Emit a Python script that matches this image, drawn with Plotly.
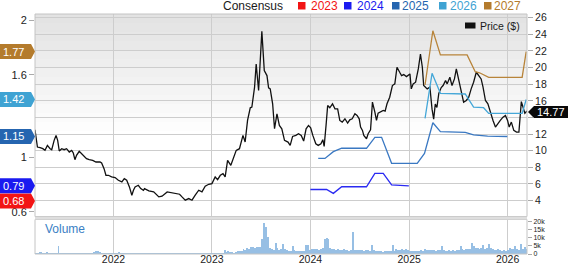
import plotly.graph_objects as go
import pandas as pd

# ---------------- data ----------------
price_points = [
    ("2021-03-16", 12.52), ("2021-03-25", 10.44), ("2021-04-04", 10.36), ("2021-04-14", 10.24),
    ("2021-04-22", 10.04), ("2021-05-01", 10.64), ("2021-05-11", 10.24), ("2021-05-17", 10.12),
    ("2021-05-26", 11.24), ("2021-06-02", 11.84), ("2021-06-08", 11.24), ("2021-06-14", 9.96),
    ("2021-06-23", 10.24), ("2021-07-02", 10.12), ("2021-07-11", 10.24), ("2021-07-21", 9.84),
    ("2021-07-30", 10.04), ("2021-08-05", 9.72), ("2021-08-11", 8.92), ("2021-08-17", 9.44),
    ("2021-08-27", 9.92), ("2021-09-05", 9.64), ("2021-09-14", 9.24), ("2021-09-23", 9.04),
    ("2021-10-03", 8.92), ("2021-10-16", 8.84), ("2021-10-28", 8.64), ("2021-11-12", 8.64),
    ("2021-11-18", 8.52), ("2021-11-27", 7.84), ("2021-12-04", 7.04), ("2021-12-13", 7.04),
    ("2021-12-25", 6.84),
    ("2022-01-07", 6.76), ("2022-01-19", 6.44), ("2022-02-01", 6.24), ("2022-02-10", 6.64),
    ("2022-02-19", 6.44), ("2022-03-01", 5.64), ("2022-03-10", 4.64), ("2022-03-16", 5.24),
    ("2022-03-22", 5.64), ("2022-04-03", 5.84), ("2022-04-12", 5.44), ("2022-04-22", 5.24),
    ("2022-04-26", 5.44), ("2022-05-12", 5.16), ("2022-05-30", 5.04), ("2022-06-18", 4.44),
    ("2022-06-30", 4.52), ("2022-07-19", 5.04), ("2022-08-06", 4.92), ("2022-08-22", 4.84),
    ("2022-09-03", 4.76), ("2022-09-12", 4.44), ("2022-09-24", 4.04), ("2022-10-07", 4.24),
    ("2022-10-19", 4.04), ("2022-10-31", 4.64), ("2022-11-13", 5.24), ("2022-11-25", 5.04),
    ("2022-12-07", 5.72), ("2022-12-20", 5.96),
    ("2023-01-01", 6.04), ("2023-01-13", 6.84), ("2023-01-22", 6.52), ("2023-02-01", 7.04),
    ("2023-02-11", 7.24), ("2023-02-19", 6.84), ("2023-02-28", 8.84), ("2023-03-12", 8.24),
    ("2023-03-22", 9.24), ("2023-04-01", 10.04), ("2023-04-13", 10.24), ("2023-04-26", 11.84),
    ("2023-05-04", 11.04), ("2023-05-13", 13.64), ("2023-05-23", 15.16), ("2023-05-29", 15.24),
    ("2023-06-08", 17.64), ("2023-06-14", 20.44), ("2023-06-23", 17.24), ("2023-07-05", 24.36),
    ("2023-07-14", 19.64), ("2023-07-24", 19.04), ("2023-07-30", 17.56), ("2023-08-05", 17.44),
    ("2023-08-14", 15.64), ("2023-08-21", 12.64), ("2023-08-30", 14.44), ("2023-09-08", 13.04),
    ("2023-09-17", 12.64), ("2023-09-27", 11.24), ("2023-10-10", 11.04), ("2023-10-18", 10.64),
    ("2023-10-27", 11.72), ("2023-11-08", 11.84), ("2023-11-18", 12.04), ("2023-11-28", 11.84),
    ("2023-12-07", 11.16), ("2023-12-16", 12.64), ("2023-12-25", 13.04),
    ("2024-01-02", 12.76), ("2024-01-10", 11.84), ("2024-01-21", 10.84), ("2024-01-30", 10.64),
    ("2024-02-09", 10.84), ("2024-02-16", 11.32), ("2024-02-21", 10.52), ("2024-02-28", 13.04),
    ("2024-03-05", 15.44), ("2024-03-13", 15.16), ("2024-03-23", 15.64), ("2024-04-01", 15.04),
    ("2024-04-11", 15.04), ("2024-04-19", 13.64), ("2024-04-28", 13.44), ("2024-05-08", 13.84),
    ("2024-05-18", 13.32), ("2024-05-26", 13.72), ("2024-06-04", 13.84), ("2024-06-14", 14.44),
    ("2024-06-22", 14.24), ("2024-06-30", 13.84), ("2024-07-05", 12.84), ("2024-07-12", 12.44),
    ("2024-07-17", 11.84), ("2024-07-27", 11.44), ("2024-08-02", 12.04), ("2024-08-11", 12.52),
    ("2024-08-18", 15.84), ("2024-08-27", 14.64), ("2024-09-02", 13.64), ("2024-09-08", 14.52),
    ("2024-09-17", 14.64), ("2024-09-27", 14.84), ("2024-10-04", 14.76), ("2024-10-11", 15.64),
    ("2024-10-21", 16.44), ("2024-10-31", 17.84), ("2024-11-09", 18.04), ("2024-11-17", 20.04),
    ("2024-11-27", 19.44), ("2024-12-04", 19.04), ("2024-12-12", 19.16), ("2024-12-22", 18.92),
    ("2025-01-04", 19.24), ("2025-01-09", 17.44), ("2025-01-16", 18.04), ("2025-01-25", 18.24),
    ("2025-02-04", 19.84), ("2025-02-12", 21.64), ("2025-02-19", 20.04), ("2025-02-24", 17.84),
    ("2025-03-09", 17.44), ("2025-03-19", 17.64), ("2025-03-27", 15.00), ("2025-04-02", 13.80),
    ("2025-04-08", 15.60), ("2025-04-14", 15.20), ("2025-04-21", 16.90), ("2025-04-30", 17.60),
    ("2025-05-07", 17.84), ("2025-05-16", 18.44), ("2025-05-22", 18.04), ("2025-06-01", 18.84),
    ("2025-06-09", 17.84), ("2025-06-18", 18.64), ("2025-06-25", 19.84), ("2025-07-04", 18.44),
    ("2025-07-13", 17.04), ("2025-07-22", 15.84), ("2025-08-01", 16.04), ("2025-08-10", 16.44),
    ("2025-08-19", 17.44), ("2025-08-28", 18.24), ("2025-09-07", 19.44), ("2025-09-16", 19.04),
    ("2025-09-25", 18.64), ("2025-10-02", 17.64), ("2025-10-11", 16.04), ("2025-10-20", 15.64),
    ("2025-10-30", 14.44), ("2025-11-08", 13.64), ("2025-11-17", 12.84), ("2025-11-25", 13.24),
    ("2025-12-05", 13.64), ("2025-12-15", 14.04), ("2025-12-24", 14.24),
    ("2026-01-01", 13.64), ("2026-01-07", 12.84), ("2026-01-15", 13.44), ("2026-01-24", 12.44),
    ("2026-02-03", 12.24), ("2026-02-12", 12.24), ("2026-02-21", 15.90), ("2026-02-27", 15.10),
    ("2026-03-06", 14.50), ("2026-03-14", 14.77),
]
last_price = 14.77

cons_2024_dates = ["2024-01-01", "2024-03-01", "2024-03-26", "2024-04-26", "2024-07-27",
                   "2024-08-27", "2024-09-27", "2024-10-28", "2024-12-31"]
cons_2024_vals = [0.763, 0.763, 0.735, 0.783, 0.783, 0.881, 0.881, 0.796, 0.79]

cons_2025_dates = ["2024-01-30", "2024-02-24", "2024-03-26", "2024-04-26", "2024-07-27",
                   "2024-08-27", "2024-09-21", "2024-10-28", "2025-01-31", "2025-02-27",
                   "2025-03-30", "2025-04-27", "2025-07-28", "2025-08-28", "2025-10-19",
                   "2025-12-31"]
cons_2025_vals = [0.99, 0.99, 1.039, 1.064, 1.064, 1.144, 1.144, 0.954, 0.954, 1.027,
                  1.25, 1.185, 1.18, 1.161, 1.153, 1.15]

cons_2026_dates = ["2025-03-01", "2025-03-27", "2025-04-27", "2025-07-28", "2025-08-28",
                   "2025-10-04", "2025-10-23", "2026-02-24", "2026-03-11"]
cons_2026_vals = [1.282, 1.611, 1.465, 1.46, 1.365, 1.36, 1.319, 1.319, 1.42]

cons_2027_dates = ["2025-03-01", "2025-03-30", "2025-04-27", "2025-08-04", "2025-09-03",
                   "2025-09-19", "2025-10-23", "2026-02-24", "2026-03-11"]
cons_2027_vals = [1.526, 1.922, 1.745, 1.745, 1.623, 1.615, 1.582, 1.582, 1.77]

cons_years = ["2023", "2024", "2025", "2026", "2027"]
cons_current = [0.68, 0.79, 1.15, 1.42, 1.77]

# weekly volume (thousands of shares), first week 2021-03-19
vol_2021 = [0.9, 1.1, 1.4, 1.3, 1.2, 1.0, 1.4, 1.2, 0.9, 1.0, 0.8, 1.1, 5.3, 1.2,
            0.9, 0.8, 0.7, 0.9, 0.8, 0.7, 0.8, 0.6, 0.7, 0.8, 0.7, 0.6, 0.7, 0.8,
            0.7, 0.6, 0.8, 1.6, 2.3, 2.0, 1.4, 0.9, 0.7, 0.8, 0.6, 0.7, 0.8, 0.9]
vol_2022 = [0.7, 1.0, 1.8, 0.9, 0.6, 0.7, 0.5, 0.6, 0.7, 0.5,
            0.6, 0.8, 0.6, 0.5, 0.6, 0.5, 0.4, 0.6, 0.5, 0.4,
            0.5, 0.6, 0.5, 0.7, 0.6, 0.5, 0.4, 0.5, 0.6, 0.5,
            0.4, 0.5, 0.4, 0.5, 0.6, 0.5, 0.4, 0.5, 0.4, 0.4,
            0.5, 0.4, 0.5, 0.6, 0.5, 0.4, 0.5, 0.6, 0.7, 0.6,
            0.8, 0.7]
vol_2023 = [0.6, 0.8, 0.9, 0.8, 1.0, 1.2, 2.7, 1.5, 2.2, 1.6,
            1.4, 1.2, 1.7, 1.9, 2.2, 2.0, 3.3, 3.0, 3.9, 3.6,
            4.3, 4.3, 4.0, 4.7, 4.4, 4.6, 9.6, 19.4, 16.5, 10.8,
            4.1, 3.3, 2.6, 7.3, 3.7, 2.8, 3.3, 6.5, 3.6, 2.6,
            2.4, 2.2, 4.9, 2.5, 2.3, 2.1, 2.4, 2.0, 2.4, 5.7,
            5.7, 2.5]
vol_2024 = [3.3, 3.5, 3.2, 3.4, 3.0, 3.6, 4.2, 9.2, 10.0, 9.2,
            3.7, 3.2, 3.5, 2.8, 3.4, 3.0, 2.7, 3.2, 2.6, 2.8,
            2.4, 2.7, 13.7, 2.8, 2.5, 2.9, 2.6, 2.8, 2.4, 2.7,
            2.5, 2.3, 5.7, 2.6, 2.1, 1.9, 2.0, 2.2, 1.8, 2.0,
            2.1, 1.9, 2.3, 5.7, 2.4, 3.3, 2.6, 3.0, 3.3, 2.8,
            3.1, 2.7]
vol_2025 = [2.2, 2.0, 2.3, 2.1, 2.4, 2.2, 2.6, 2.3, 3.3, 2.8,
            2.6, 2.9, 2.5, 2.7, 2.4, 3.0, 2.8, 4.9, 2.6, 2.4,
            2.2, 2.5, 2.3, 2.6, 2.4, 2.7, 2.5, 5.3, 3.3, 3.0,
            3.4, 3.1, 3.6, 7.3, 4.9, 3.8, 4.0, 3.6, 3.9, 5.7,
            3.5, 3.7, 6.3, 4.2, 3.3, 3.0, 2.6, 3.1, 2.8, 2.3,
            2.6, 2.4]
vol_2026 = [3.0, 3.9, 3.4, 3.1, 5.3, 3.3, 2.9, 6.3, 3.5, 4.3, 3.6]
vol_start = "2021-03-19"

x_start, x_end = "2021-03-16", "2026-03-14"
price_range = [2.08, 26.45]
price_ticks = [4, 6, 8, 10, 12, 14, 16, 18, 20, 22, 24, 26]
price_hidden_tick = 14          # covered by the last-price tag
eps_range = [0.566, 2.044]
eps_ticks = [0.6, 1, 1.6, 2]
vol_range = [0, 21]
vol_ticks = [0, 5, 10, 15, 20]
vol_ticktext = ["0", "5k", "10k", "15k", "20k"]

# ---------------- style ----------------
FONT = "Liberation Sans, Arial, sans-serif"
GRID = "#cdcdcd"
BORDER = "#c4c4c4"
colors = {"2023": "#f21414", "2024": "#1a1af0", "2025": "#2565b0",
          "2026": "#3fa3d3", "2027": "#b47b2c"}
line_colors = {"2024": "#2a2af2", "2025": "#3a78c2", "2026": "#45a7d8", "2027": "#b8843a"}

W, H = 568, 264
ML, MR, MT, MB = 35, 41, 14, 10
PW, PH = W - ML - MR, H - MT - MB


def fx(px):
    return (px - ML) / PW


def fy(py):
    return (H - MB - py) / PH


main_bottom = fy(216.5)
vol_top = fy(219.5)

p_dates = [d for d, _ in price_points]
p_vals = [v for _, v in price_points]
volume = vol_2021 + vol_2022 + vol_2023 + vol_2024 + vol_2025 + vol_2026
vol_dates = pd.date_range(vol_start, periods=len(volume), freq="7D")
price_ticktext = ["" if t == price_hidden_tick else str(t) for t in price_ticks]

fig = go.Figure()

fig.add_trace(go.Bar(x=vol_dates, y=volume, xaxis="x2", yaxis="y3",
                     width=3.5 * 86400000, marker=dict(color="#97bfe4", line=dict(width=0)),
                     hoverinfo="skip"))

fig.add_trace(go.Scatter(x=p_dates, y=p_vals, mode="lines", xaxis="x", yaxis="y",
                         line=dict(color="#111111", width=1.3), hoverinfo="skip"))

for yr, ds, vs in [("2024", cons_2024_dates, cons_2024_vals),
                   ("2025", cons_2025_dates, cons_2025_vals),
                   ("2026", cons_2026_dates, cons_2026_vals),
                   ("2027", cons_2027_dates, cons_2027_vals)]:
    fig.add_trace(go.Scatter(x=ds, y=vs, mode="lines", xaxis="x", yaxis="y2",
                             line=dict(color=line_colors[yr], width=1.3), hoverinfo="skip"))

shapes = []
annotations = []

# background gradient in the price panel
nb = 14
for i in range(nb):
    py0 = 14 + i * 9
    lvl = int(round(227 + (255 - 227) * i / (nb - 1)))
    shapes.append(dict(type="rect", xref="paper", yref="paper", x0=0, x1=1,
                       y0=fy(py0 + 9.5), y1=fy(py0), line=dict(width=0),
                       fillcolor=f"rgb({lvl},{lvl},{lvl})", layer="below"))

# panel borders and separator
shapes.append(dict(type="rect", xref="paper", yref="paper", x0=0, x1=1, y0=main_bottom, y1=1,
                   line=dict(color=BORDER, width=1), layer="above"))
shapes.append(dict(type="rect", xref="paper", yref="paper", x0=0, x1=1, y0=0, y1=vol_top,
                   line=dict(color=BORDER, width=1), layer="above"))
shapes.append(dict(type="rect", xref="paper", yref="paper", x0=0, x1=1,
                   y0=fy(219.5), y1=fy(216.8), line=dict(width=0), fillcolor="#dedede",
                   layer="above"))

# consensus tags on the left
for yr, val in zip(cons_years, cons_current):
    shapes.append(dict(type="path", xref="paper", yref="y2", xsizemode="pixel",
                       ysizemode="pixel", xanchor=0, yanchor=val,
                       path="M-35,-7.5 L-4,-7.5 L0,0 L-4,7.5 L-35,7.5 Z",
                       fillcolor=colors[yr], line=dict(width=0), layer="above"))
    annotations.append(dict(xref="paper", yref="y2", x=0, y=val, xanchor="left",
                            yanchor="middle", xshift=-34, text=f"{val:.2f}", showarrow=False,
                            font=dict(family=FONT, size=11, color="white")))

# last price tag on the right
shapes.append(dict(type="path", xref="paper", yref="y", xsizemode="pixel", ysizemode="pixel",
                   xanchor=1, yanchor=last_price,
                   path="M1,-1 L7,-7 L41,-7 L41,5 L7,5 Z",
                   fillcolor="#0a0a0a", line=dict(width=0), layer="above"))
annotations.append(dict(xref="paper", yref="y", x=1, y=last_price, xanchor="left",
                        yanchor="middle", xshift=7.5, yshift=-1, text=f"{last_price:.2f}",
                        showarrow=False, font=dict(family=FONT, size=11, color="white")))

# top legend
annotations.append(dict(xref="paper", yref="paper", x=fx(221), y=fy(5.5), xanchor="left",
                        yanchor="middle", text="Consensus", showarrow=False,
                        font=dict(family=FONT, size=12, color="#1a1a1a")))
leg_sq = {"2023": 298, "2024": 344, "2025": 392, "2026": 439, "2027": 484}
leg_tx = {"2023": 308.5, "2024": 354.5, "2025": 399.5, "2026": 447.5, "2027": 491.5}
for yr in cons_years:
    shapes.append(dict(type="rect", xref="paper", yref="paper", x0=fx(leg_sq[yr]),
                       x1=fx(leg_sq[yr] + 7.5), y0=fy(9.5), y1=fy(2), line=dict(width=0),
                       fillcolor=colors[yr]))
    annotations.append(dict(xref="paper", yref="paper", x=fx(leg_tx[yr]), y=fy(5.5),
                            xanchor="left", yanchor="middle", text=yr, showarrow=False,
                            font=dict(family=FONT, size=12, color=colors[yr])))

# price legend inside plot
shapes.append(dict(type="rect", xref="paper", yref="paper", x0=fx(465), x1=fx(475.5),
                   y0=fy(28.5), y1=fy(22.5), line=dict(width=0), fillcolor="#111111"))
annotations.append(dict(xref="paper", yref="paper", x=fx(478), y=fy(25.5), xanchor="left",
                        yanchor="middle", text="Price ($)", showarrow=False,
                        font=dict(family=FONT, size=10.5, color="#1a1a1a")))

# volume label
annotations.append(dict(xref="paper", yref="paper", x=fx(43), y=fy(229), xanchor="left",
                        yanchor="middle", text="Volume", showarrow=False,
                        font=dict(family=FONT, size=12, color="#3a80c4")))

tickfont = dict(family=FONT, size=11, color="#222222")
fig.update_layout(
    width=W, height=H, margin=dict(l=ML, r=MR, t=MT, b=MB, autoexpand=False),
    paper_bgcolor="white", plot_bgcolor="rgba(0,0,0,0)", showlegend=False,
    font=dict(family=FONT, size=11, color="#222222"),
    bargap=0,
    xaxis=dict(domain=[0, 1], anchor="y", type="date", range=[x_start, x_end],
               showgrid=True, gridcolor=GRID, gridwidth=1, dtick="M12", tick0="2022-01-01",
               showticklabels=False, ticks="", zeroline=False, showline=False,
               automargin=False),
    yaxis=dict(domain=[main_bottom, 1], anchor="x", side="right", range=price_range,
               tickvals=price_ticks, ticktext=price_ticktext, showgrid=True, gridcolor=GRID,
               ticks="outside", ticklen=5, tickcolor="#aaaaaa", zeroline=False,
               showline=False, tickfont=dict(family=FONT, size=10.5, color="#222222"),
               automargin=False),
    yaxis2=dict(overlaying="y", anchor="x", side="left", range=eps_range,
                tickvals=eps_ticks, showgrid=False, ticks="outside", ticklen=5,
                tickcolor="#aaaaaa", zeroline=False, showline=False, tickfont=tickfont,
                automargin=False),
    xaxis2=dict(domain=[0, 1], anchor="y3", matches="x", type="date", showgrid=True,
                gridcolor=GRID, dtick="M12", tick0="2022-01-01", tickformat="%Y", ticks="",
                zeroline=False, showline=False, tickfont=dict(family=FONT, size=10.5,
                                                              color="#222222"),
                ticklabelstandoff=-3, automargin=False),
    yaxis3=dict(domain=[0, vol_top], anchor="x2", side="right", range=vol_range,
                tickvals=vol_ticks, ticktext=vol_ticktext, showgrid=False, ticks="outside",
                ticklen=4, tickcolor="#aaaaaa", zeroline=False, showline=False,
                tickfont=dict(family=FONT, size=7, color="#222222"), automargin=False),
    shapes=shapes, annotations=annotations,
)

fig.write_html("out.html")
